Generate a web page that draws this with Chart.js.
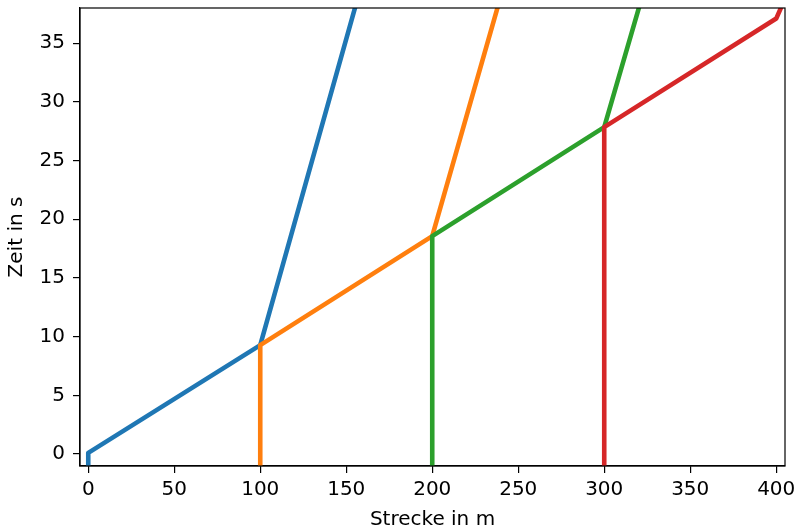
<!DOCTYPE html>
<html>
<head>
<meta charset="utf-8">
<script src="https://cdn.jsdelivr.net/npm/chart.js@4"></script>
<style>
  html, body { margin: 0; padding: 0; background: #fff; }
  #wrap { width: 797px; height: 527px; }
</style>
</head>
<body>
<div id="wrap"><canvas id="chart"></canvas></div>
<script>
// Strecke (m) and Zeit (s) for each vehicle
const blueX = [0, 0, 100, 158.9];
const blueY = [-2, 0.1, 9.28, 40];
const orangeX = [100, 100, 200, 241.8];
const orangeY = [-2, 9.28, 18.56, 40];
const greenX = [200, 200, 300, 324.1];
const greenY = [-2, 18.56, 27.85, 40];
const redX = [300, 300, 400, 404.5];
const redY = [-2, 27.85, 37.1, 38.6];

const xTicks = [0, 50, 100, 150, 200, 250, 300, 350, 400];
const yTicks = [0, 5, 10, 15, 20, 25, 30, 35];

const colors = ["#1f77b4", "#ff7f0e", "#2ca02c", "#d62728"];

function points(xs, ys) {
  return xs.map((x, i) => ({ x: x, y: ys[i] }));
}

const frame = {
  id: "frame",
  afterDatasetsDraw(chart) {
    const a = chart.chartArea;
    const ctx = chart.ctx;
    ctx.save();
    ctx.strokeStyle = "#000";
    ctx.lineWidth = 1.2;
    ctx.strokeRect(a.left, a.top, a.right - a.left, a.bottom - a.top);
    ctx.restore();
  }
};

const font = { family: "DejaVu Sans", size: 20 };

const ctx = document.getElementById("chart").getContext("2d");
new Chart(ctx, {
  type: "scatter",
  data: {
    datasets: [
      { data: points(blueX, blueY), borderColor: colors[0], order: 4 },
      { data: points(orangeX, orangeY), borderColor: colors[1], order: 3 },
      { data: points(greenX, greenY), borderColor: colors[2], order: 2 },
      { data: points(redX, redY), borderColor: colors[3], order: 1 }
    ].map(d => Object.assign(d, {
      showLine: true,
      borderWidth: 4.6,
      pointRadius: 0,
      borderJoinStyle: "round",
      borderCapStyle: "butt"
    }))
  },
  options: {
    responsive: true,
    maintainAspectRatio: false,
    animation: false,
    layout: { padding: { top: 8, right: 12, left: 0, bottom: 0 } },
    plugins: { legend: { display: false }, tooltip: { enabled: false } },
    scales: {
      x: {
        min: -4.8,
        max: 405.1,
        afterBuildTicks: scale => { scale.ticks = xTicks.map(v => ({ value: v })); },
        afterFit: scale => {
          scale.height = 61;
          scale.paddingLeft = 0;
          scale.paddingRight = 0;
        },
        grid: { drawOnChartArea: false, drawTicks: true, tickLength: 7, color: "#000", lineWidth: 1.2 },
        border: { display: true, color: "#000", width: 1.2 },
        ticks: { color: "#000", font: font, padding: 5, maxRotation: 0 },
        title: { display: true, text: "Strecke in m", color: "#000", font: font, padding: { top: 0, bottom: -5 } }
      },
      y: {
        min: -1.02,
        max: 38,
        afterBuildTicks: scale => { scale.ticks = yTicks.map(v => ({ value: v })); },
        afterFit: scale => {
          scale.width = 80;
          scale.paddingTop = 0;
          scale.paddingBottom = 0;
        },
        grid: { drawOnChartArea: false, drawTicks: true, tickLength: 7, color: "#000", lineWidth: 1.2 },
        border: { display: true, color: "#000", width: 1.2 },
        ticks: { color: "#000", font: font, padding: 8 },
        title: { display: true, text: "Zeit in s", color: "#000", font: font, padding: { top: 5, bottom: 4 } }
      }
    }
  },
  plugins: [frame]
});
</script>
</body>
</html>
